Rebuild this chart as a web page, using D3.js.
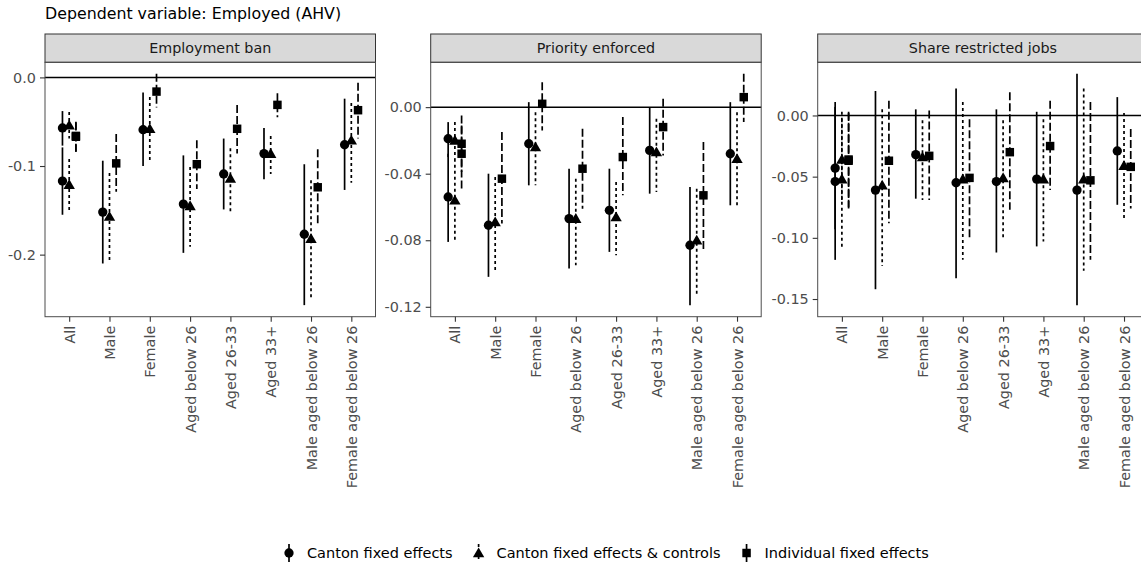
<!DOCTYPE html>
<html>
<head>
<meta charset="utf-8">
<script src="https://cdn.jsdelivr.net/npm/d3@7"></script>
<style>
  body { margin: 0; background: #fff; }
  svg { display: block; font-family: "DejaVu Sans", sans-serif; }
</style>
</head>
<body>
<svg width="1141" height="569"></svg>
<script>
// categories on the x axis (the "All" group appears twice in the data)
let categories = ['All', 'Male', 'Female', 'Aged below 26', 'Aged 26-33', 'Aged 33+',
  'Male aged below 26', 'Female aged below 26'];
let rowCategory = ['All', 'All', 'Male', 'Female', 'Aged below 26', 'Aged 26-33', 'Aged 33+',
  'Male aged below 26', 'Female aged below 26'];
let seriesNames = ['Canton fixed effects', 'Canton fixed effects & controls', 'Individual fixed effects'];
let panelNames = ['Employment ban', 'Priority enforced', 'Share restricted jobs'];

// [estimate, upper, lower] per row of rowCategory
let banCanton = [[-0.057, -0.038, -0.077], [-0.117, -0.079, -0.155], [-0.152, -0.094, -0.210],
  [-0.059, -0.017, -0.100], [-0.143, -0.088, -0.198], [-0.109, -0.069, -0.149],
  [-0.086, -0.057, -0.115], [-0.177, -0.098, -0.257], [-0.076, -0.024, -0.127]];
let banControls = [[-0.054, -0.039, -0.069], [-0.121, -0.092, -0.152], [-0.157, -0.108, -0.207],
  [-0.058, -0.022, -0.096], [-0.145, -0.101, -0.191], [-0.114, -0.080, -0.152],
  [-0.086, -0.066, -0.109], [-0.182, -0.116, -0.251], [-0.071, -0.029, -0.119]];
let banIndividual = [[-0.066, -0.050, -0.087], [-0.067, -0.051, -0.084], [-0.097, -0.064, -0.129],
  [-0.016, 0.004, -0.034], [-0.098, -0.071, -0.126], [-0.058, -0.031, -0.086],
  [-0.031, -0.018, -0.045], [-0.124, -0.081, -0.167], [-0.037, -0.006, -0.069]];

let prioCanton = [[-0.019, -0.009, -0.030], [-0.054, -0.028, -0.081], [-0.071, -0.040, -0.102],
  [-0.022, 0.003, -0.047], [-0.067, -0.037, -0.097], [-0.062, -0.037, -0.087],
  [-0.026, 0.000, -0.052], [-0.083, -0.048, -0.119], [-0.028, 0.003, -0.059]];
let prioControls = [[-0.020, -0.009, -0.031], [-0.056, -0.031, -0.080], [-0.069, -0.042, -0.099],
  [-0.024, -0.003, -0.047], [-0.067, -0.043, -0.095], [-0.066, -0.045, -0.089],
  [-0.027, -0.007, -0.051], [-0.080, -0.049, -0.113], [-0.031, -0.003, -0.060]];
let prioIndividual = [[-0.022, -0.005, -0.039], [-0.028, -0.011, -0.049], [-0.043, -0.015, -0.070],
  [0.002, 0.015, -0.014], [-0.037, -0.013, -0.061], [-0.030, -0.006, -0.053],
  [-0.012, 0.005, -0.029], [-0.053, -0.021, -0.086], [0.006, 0.020, -0.009]];

let shareCanton = [[-0.043, 0.007, -0.093], [-0.054, 0.011, -0.118], [-0.061, 0.020, -0.142],
  [-0.032, 0.005, -0.068], [-0.055, 0.022, -0.133], [-0.054, 0.005, -0.112],
  [-0.052, 0.003, -0.107], [-0.061, 0.034, -0.155], [-0.029, 0.015, -0.073]];
let shareControls = [[-0.036, -0.003, -0.069], [-0.052, 0.003, -0.108], [-0.057, 0.005, -0.123],
  [-0.034, -0.004, -0.069], [-0.052, 0.011, -0.118], [-0.051, -0.004, -0.101],
  [-0.052, -0.003, -0.103], [-0.052, 0.022, -0.127], [-0.041, 0.002, -0.084]];
let shareIndividual = [[-0.036, 0.003, -0.075], [-0.037, 0.002, -0.076], [-0.037, 0.012, -0.088],
  [-0.033, 0.004, -0.069], [-0.051, -0.003, -0.100], [-0.030, 0.019, -0.077],
  [-0.025, 0.012, -0.061], [-0.053, 0.011, -0.118], [-0.042, -0.011, -0.076]];

let banTicks = [0, -0.1, -0.2];
let prioTicks = [0, -0.04, -0.08, -0.12];
let shareTicks = [0, -0.05, -0.10, -0.15];

let panelData = [
  { name: panelNames[0], series: [banCanton, banControls, banIndividual], ticks: banTicks, fmt: '.1f' },
  { name: panelNames[1], series: [prioCanton, prioControls, prioIndividual], ticks: prioTicks, fmt: '.2f' },
  { name: panelNames[2], series: [shareCanton, shareControls, shareIndividual], ticks: shareTicks, fmt: '.2f' }
];

let locale = d3.formatLocale({ decimal: '.', thousands: ',', grouping: [3], currency: ['$', ''], minus: '-' });

let shapes = [d3.symbolCircle, d3.symbolTriangle, d3.symbolSquare];
let shapeSizes = [68, 56, 72];
let dashes = [null, '3,3', '8,3'];

window.onload = function() {
  drawChart();
}

function drawChart() {
  let svg = d3.select('svg');
  let panelLefts = [45, 430.7, 817.7];
  let panelW = 330.5;
  let stripTop = 34, top = 62.3, bottom = 316.7;

  svg.append('text')
    .attr('x', 45).attr('y', 19)
    .style('font-size', '15.8px')
    .attr('fill', '#000')
    .text('Dependent variable: Employed (AHV)');

  panelData.forEach((p, pi) => {
    let left = panelLefts[pi];
    let g = svg.append('g');

    let rows = [];
    p.series.forEach((arr, si) => {
      arr.forEach((v, ri) => {
        rows.push({ cat: rowCategory[ri], series: seriesNames[si], si: si, est: v[0], hi: v[1], lo: v[2] });
      });
    });

    let x = d3.scalePoint().domain(categories).range([left, left + panelW]).padding(0.6);
    let dodge = d3.scalePoint().domain(seriesNames).range([-x.step() / 6, x.step() / 6]);
    let ext = [d3.min(rows, d => d.lo), d3.max(rows, d => d.hi)];
    let pad = (ext[1] - ext[0]) * 0.05;
    let y = d3.scaleLinear().domain([ext[0] - pad, ext[1] + pad]).range([bottom, top]);

    // strip
    g.append('rect')
      .attr('x', left).attr('y', stripTop)
      .attr('width', panelW).attr('height', top - stripTop)
      .attr('fill', '#d9d9d9').attr('stroke', '#333').attr('stroke-width', 1);
    g.append('text')
      .attr('x', left + panelW / 2).attr('y', 53)
      .attr('text-anchor', 'middle')
      .style('font-size', '14.3px').attr('fill', '#1a1a1a')
      .text(p.name);

    // zero line
    g.append('line')
      .attr('x1', left).attr('x2', left + panelW)
      .attr('y1', y(0)).attr('y2', y(0))
      .attr('stroke', '#000').attr('stroke-width', 1.5);

    // error bars
    g.selectAll('.bar').data(rows).enter().append('line')
      .attr('class', 'bar')
      .attr('x1', d => x(d.cat) + dodge(d.series))
      .attr('x2', d => x(d.cat) + dodge(d.series))
      .attr('y1', d => y(d.hi)).attr('y2', d => y(d.lo))
      .attr('stroke', '#000').attr('stroke-width', 1.7)
      .attr('stroke-dasharray', d => dashes[d.si]);

    // points
    g.selectAll('.pt').data(rows).enter().append('path')
      .attr('class', 'pt')
      .attr('d', d => d3.symbol().type(shapes[d.si]).size(shapeSizes[d.si])())
      .attr('transform', d => `translate(${x(d.cat) + dodge(d.series)},${y(d.est) + (d.si == 1 ? 1 : 0)})`)
      .attr('fill', '#000');

    // panel border
    g.append('rect')
      .attr('x', left).attr('y', top)
      .attr('width', panelW).attr('height', bottom - top)
      .attr('fill', 'none').attr('stroke', '#4d4d4d').attr('stroke-width', 1);

    // axes
    let yAxis = g.append('g')
      .attr('transform', `translate(${left},0)`)
      .call(d3.axisLeft(y).tickValues(p.ticks).tickFormat(locale.format(p.fmt)).tickSize(5).tickPadding(4));
    let xAxis = g.append('g')
      .attr('transform', `translate(0,${bottom})`)
      .call(d3.axisBottom(x).tickSize(5));
    [yAxis, xAxis].forEach(a => {
      a.select('.domain').remove();
      a.selectAll('line').attr('stroke', '#333').attr('stroke-width', 1.1);
      a.selectAll('text').attr('fill', '#4d4d4d').style('font-size', '14.4px')
        .style('font-family', '"DejaVu Sans", sans-serif');
    });
    xAxis.selectAll('text')
      .attr('transform', 'rotate(-90)')
      .attr('x', -9).attr('y', 0).attr('dy', '0.35em')
      .style('text-anchor', 'end');
  });

  // legend
  let legend = svg.append('g');
  let cx = 289, cy = 553;
  seriesNames.forEach((name, si) => {
    let item = legend.append('g').attr('transform', `translate(${cx},${cy})`);
    item.append('line')
      .attr('x1', 0).attr('x2', 0).attr('y1', -9).attr('y2', 9)
      .attr('stroke', '#000').attr('stroke-width', 1.7)
      .attr('stroke-dasharray', dashes[si]);
    item.append('path')
      .attr('d', d3.symbol().type(shapes[si]).size(shapeSizes[si])())
      .attr('transform', `translate(0,${si == 1 ? 1 : 0})`)
      .attr('fill', '#000');
    let t = item.append('text')
      .attr('x', 18).attr('y', 5)
      .style('font-size', '14.5px').attr('fill', '#000')
      .text(name);
    cx += 18 + t.node().getComputedTextLength() + 26;
  });
}
</script>
</body>
</html>
